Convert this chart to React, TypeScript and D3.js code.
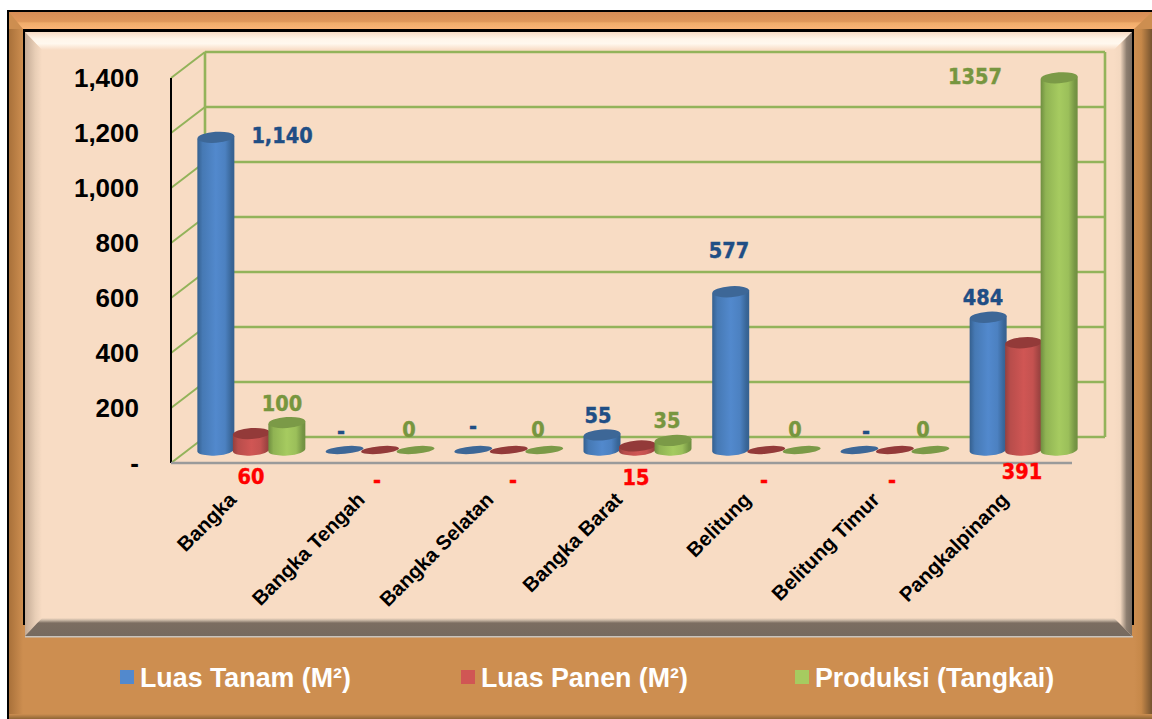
import React from "react";
import * as d3 from "d3";

const categories = ["Bangka", "Bangka Tengah", "Bangka Selatan", "Bangka Barat", "Belitung", "Belitung Timur", "Pangkalpinang"];
const luasTanam = [1140, 0, 0, 55, 577, 0, 484];
const luasPanen = [60, 0, 0, 15, 0, 0, 391];
const produksi = [100, 0, 0, 35, 0, 0, 1357];
const tanamLabels = ["1,140", "-", "-", "55", "577", "-", "484"];
const panenLabels = ["60", "-", "-", "15", "-", "-", "391"];
const produksiLabels = ["100", "0", "0", "35", "0", "0", "1357"];
const yTicks = [0, 200, 400, 600, 800, 1000, 1200, 1400];
const seriesNames = ["Luas Tanam (M²)", "Luas Panen (M²)", "Produksi (Tangkai)"];

const W = 1152, H = 719;
const frontX0 = 171, frontX1 = 1072, frontY0 = 463, frontYTop = 78;
const backDx = 34, backDy = -26;
const gridColor = "#93b35a";
const sans = "'Liberation Sans', Arial, sans-serif";
const labelFont = "'DejaVu Sans Condensed', 'DejaVu Sans', sans-serif";

const yFront = d3.scaleLinear().domain([0, 1400]).range([frontY0, frontYTop]);
const yBar = d3.scaleLinear().domain([0, 1400]).range([450, 66]);
const xBand = d3.scaleBand<number>().domain(d3.range(7)).range([187, 1088]);
const xSeries = d3.scalePoint<number>().domain([0, 1, 2]).range([-35.5, 35.5]);

const palette = [
  { id: "blue", edge: "#35608f", mid: "#5289cd", top: "#3d6797", label: "#1f4e85" },
  { id: "red", edge: "#94403e", mid: "#d05654", top: "#933a39", label: "#ff0000" },
  { id: "green", edge: "#6f8e40", mid: "#a6cb60", top: "#7b9a47", label: "#77963f" },
];

const series = [luasTanam, luasPanen, produksi];
const labelText = [tanamLabels, panenLabels, produksiLabels];
const labelPos: [number, number][][] = [
  [[282, 135], [341, 431], [473, 426], [598, 415], [729, 250], [866, 431], [983, 297]],
  [[251, 476], [377, 480], [513, 480], [636, 477], [764, 480], [892, 480], [1022, 471]],
  [[282, 403], [409, 429], [538, 429], [667, 420], [795, 429], [923, 429], [975, 76]],
];

function Cylinder({ cx, value, s }: { cx: number; value: number; s: number }) {
  const p = palette[s];
  const rx = 18.5, ry = 5.5, tilt = 1.4;
  const b = yBar(0);
  const t = yBar(value);
  if (value === 0) {
    return <ellipse cx={cx} cy={b} rx={19} ry={3.8} fill={p.top} transform={`rotate(-5 ${cx} ${b})`} />;
  }
  const body = `M${cx - rx},${t + tilt} L${cx - rx},${b + tilt} A${rx},${ry} -4 0 0 ${cx + rx},${b - tilt} L${cx + rx},${t - tilt} Z`;
  return (
    <g>
      <path d={body} fill={`url(#cyl-${p.id})`} />
      <ellipse cx={cx} cy={t} rx={rx} ry={ry} fill={p.top} transform={`rotate(-4 ${cx} ${t})`} />
    </g>
  );
}

function Grad({ id, x1, y1, x2, y2, stops }: any) {
  return (
    <linearGradient id={id} x1={x1} y1={y1} x2={x2} y2={y2}>
      {stops.map(([o, c]: [number, string], i: number) => <stop key={i} offset={o} stopColor={c} />)}
    </linearGradient>
  );
}

export default function App() {
  return (
    <svg width={W} height={H} viewBox={`0 0 ${W} ${H}`} style={{ position: "fixed", left: 0, top: 0, display: "block", background: "#fff" }}>
      <defs>
        {palette.map((p) => {
          const m = d3.interpolateRgb(p.edge, p.mid);
          return (
            <Grad key={p.id} id={`cyl-${p.id}`} x1={0} y1={0} x2={1} y2={0}
              stops={[[0, p.edge], [0.14, m(0.6)], [0.5, p.mid], [0.75, m(0.8)], [0.92, m(0.15)], [1, p.edge]]} />
          );
        })}
        <Grad id="fTop" x1={0} y1={0} x2={0} y2={1} stops={[[0, "#d78d56"], [0.55, "#df975a"], [0.65, "#f0ac6a"], [1, "#fbb577"]]} />
        <Grad id="fLeft" x1={0} y1={0} x2={1} y2={0} stops={[[0, "#a9713a"], [1, "#cd8e50"]]} />
        <Grad id="fRight" x1={0} y1={0} x2={1} y2={0} stops={[[0, "#cd8e50"], [0.4, "#c68849"], [1, "#75532f"]]} />
        <Grad id="fBottom" x1={0} y1={0} x2={0} y2={1} stops={[[0, "#cd8e50"], [1, "#8f6636"]]} />
        <Grad id="pTop" x1={0} y1={0} x2={0} y2={1} stops={[[0, "#f8dcc4"], [0.4, "#fff6ea"], [0.65, "#fff8ee"], [1, "#f8dcc4"]]} />
        <Grad id="pLeft" x1={0} y1={0} x2={1} y2={0} stops={[[0, "#c4ab96"], [0.6, "#e8ceb6"], [1, "#f8dcc4"]]} />
        <Grad id="pRight" x1={0} y1={0} x2={1} y2={0} stops={[[0, "#f8dcc4"], [0.35, "#f3d8c0"], [0.7, "#8d7e70"], [1, "#7a6c60"]]} />
        <Grad id="pBottom" x1={0} y1={0} x2={0} y2={1} stops={[[0, "#f8dcc4"], [0.12, "#c9b7a5"], [0.28, "#7b6d61"], [1, "#766a5f"]]} />
      </defs>

      {/* outer frame */}
      <rect x={7} y={10} width={W - 7} height={H - 10} fill="#000" />
      <rect x={9} y={12} width={W - 9} height={H - 12} fill="#cd8e50" />
      <rect x={9} y={29} width={14} height={H - 29} fill="url(#fLeft)" />
      <rect x={1134} y={29} width={18} height={H - 29} fill="url(#fRight)" />
      <polygon points={`9,12 ${W},12 1134,29 23,29`} fill="url(#fTop)" />
      <rect x={9} y={714} width={W - 9} height={5} fill="url(#fBottom)" />

      {/* inner panel */}
      <rect x={23} y={29} width={1111} height={3} fill="#000" />
      <rect x={23} y={29} width={2} height={596} fill="#000" />
      <rect x={1132} y={29} width={2} height={596} fill="#000" />
      <rect x={25} y={32} width={1107} height={604} fill="#f8dcc4" />
      <polygon points="25,32 1132,32 1114,50 42,50" fill="url(#pTop)" />
      <polygon points="25,32 42,50 42,618 25,636" fill="url(#pLeft)" />
      <polygon points="1132,32 1114,50 1114,618 1132,636" fill="url(#pRight)" />
      <polygon points="25,636 42,618 1114,618 1132,636" fill="url(#pBottom)" />
      <rect x={25} y={636} width={1108} height={1.5} fill="#c9c4bd" />

      {/* back and side walls */}
      <g stroke={gridColor} fill="none">
        {yTicks.map((t) => (
          <g key={t}>
            <line x1={frontX0 + backDx} x2={frontX1 + backDx - 1} y1={yFront(t) + backDy} y2={yFront(t) + backDy} strokeWidth={2.6} />
            <line x1={frontX0} x2={frontX0 + backDx} y1={yFront(t)} y2={yFront(t) + backDy} strokeWidth={2} />
          </g>
        ))}
        <line x1={frontX0 + backDx} x2={frontX0 + backDx} y1={yFront(1400) + backDy} y2={yFront(0) + backDy} strokeWidth={2.6} />
        <line x1={frontX1 + backDx - 1} x2={frontX1 + backDx - 1} y1={yFront(1400) + backDy} y2={yFront(0) + backDy} strokeWidth={2.6} />
      </g>
      <line x1={frontX0} x2={frontX0} y1={frontYTop} y2={frontY0} stroke="#000" strokeWidth={2} />
      <line x1={frontX0} x2={frontX1} y1={frontY0} y2={frontY0} stroke="#9a9a9a" strokeWidth={2.5} />

      {/* y axis labels */}
      {yTicks.map((t) => (
        <text key={t} x={139} y={yFront(t) + 9} textAnchor="end" fontFamily={sans} fontWeight={700} fontSize={26} fill="#000">
          {t === 0 ? "-" : d3.format(",")(t)}
        </text>
      ))}

      {/* cylinders */}
      {[0, 1, 2].map((s) => (
        <g key={s}>
          {categories.map((_, i) => (
            <Cylinder key={i} s={s} value={series[s][i]} cx={xBand(i)! + xBand.bandwidth() / 2 + xSeries(s)!} />
          ))}
        </g>
      ))}

      {/* data labels */}
      {labelText.map((row, s) => row.map((txt, i) => (
        <text key={`${s}-${i}`} x={labelPos[s][i][0]} y={labelPos[s][i][1]} dy="0.36em" textAnchor="middle"
          fontFamily={labelFont} fontStretch="condensed" fontWeight={700} fontSize={21.5}
          fill={palette[s].label} stroke={palette[s].label} strokeWidth={0.4}>
          {txt}
        </text>
      )))}

      {/* category labels */}
      {categories.map((c, i) => {
        const x = xBand(i)! + xBand.bandwidth() / 2 - 19;
        return (
          <text key={c} transform={`translate(${x},${496}) rotate(-45)`} textAnchor="end" fontFamily={sans} fontWeight={700} fontSize={20.3} dy="0.35em" fill="#000">
            {c}
          </text>
        );
      })}

      {/* legend */}
      {seriesNames.map((n, i) => {
        const sx = [120, 461, 795][i];
        return (
          <g key={n}>
            <rect x={sx} y={670} width={14} height={14} fill={palette[i].mid} />
            <text x={sx + 20} y={687} fontFamily={sans} fontWeight={700} fontSize={26.8} fill="#fff">{n}</text>
          </g>
        );
      })}
    </svg>
  );
}
